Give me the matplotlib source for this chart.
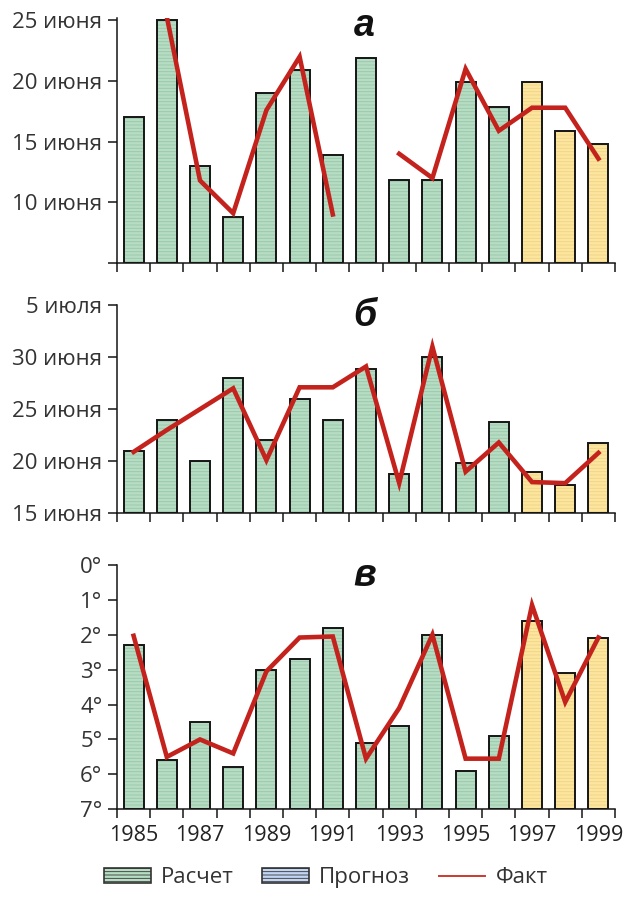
# Three stacked bar panels: calculated vs observed dates / temperatures, 1985-1999

import numpy as np
import matplotlib
matplotlib.use('Agg')
import matplotlib.pyplot as plt
from matplotlib.patches import Patch
from matplotlib.lines import Line2D

plt.rcParams['font.family'] = ['Open Sans', 'DejaVu Sans']
plt.rcParams['hatch.linewidth'] = 0.6

years = list(range(1985, 2000))
n_calc = 12  # 1985-1996 are "calc", 1997-1999 forecast (yellow)

# panel a: day of June
a_bars = [17, 25, 13, 8.8, 19, 20.9, 13.9, 21.9, 11.8, 11.8, 19.9, 17.9, 19.9, 15.9, 14.8]
a_fact = [np.nan, 25.3, 11.8, 9.1, 17.6, 22, 9, np.nan, 14, 12, 21, 15.9, 17.8, 17.8, 13.6]
a_ticks = [5, 10, 15, 20, 25]
a_labels = ['', '10 июня', '15 июня', '20 июня', '25 июня']

# panel b: day of June (35 = 5 July)
b_bars = [21, 24, 20, 28, 22, 26, 24, 28.9, 18.8, 30, 19.8, 23.8, 19, 17.7, 21.8]
b_fact = [20.9, 23, 25, 27, 20.1, 27.1, 27.1, 29.1, 17.9, 31, 19, 21.8, 18, 17.9, 20.8]
b_ticks = [15, 20, 25, 30, 35]
b_labels = ['15 июня', '20 июня', '25 июня', '30 июня', '5 июля']

# panel c: degrees (inverted axis)
c_bars = [2.3, 5.6, 4.5, 5.8, 3.0, 2.7, 1.8, 5.1, 4.6, 2.0, 5.9, 4.9, 1.6, 3.1, 2.1]
c_fact = [2.03, 5.5, 5.0, 5.4, 3.05, 2.08, 2.05, 5.55, 4.1, 2.0, 5.55, 5.55, 1.15, 3.93, 2.08]
c_ticks = [0, 1, 2, 3, 4, 5, 6, 7]
c_labels = ['%d°' % t for t in c_ticks]

year_labels = [str(y) for y in years[::2]]

GREEN = '#b6dcc3'
GREEN_H = '#98c8a8'
YELLOW = '#fce59e'
YELLOW_H = '#f0d486'
BLUE = '#c2d5f3'
RED = '#c4231d'
TXT = '#333333'


def draw_panel(ax, bars, fact, base, ylim, ticks, labels, letter, letter_y, show_years=False):
    x = np.array(years)
    vals = np.array(bars)
    fills = [GREEN] * n_calc + [YELLOW] * (len(years) - n_calc)
    hatches = [GREEN_H] * n_calc + [YELLOW_H] * (len(years) - n_calc)
    # fill with stripes, then black outline on top
    ax.bar(x, vals - base, bottom=base, width=0.6, color=fills,
           edgecolor=hatches, hatch='-----', linewidth=0, zorder=2)
    ax.bar(x, vals - base, bottom=base, width=0.6, fill=False,
           edgecolor='#151515', linewidth=1.4, zorder=3)
    ax.plot(x, fact, color=RED, linewidth=3.3, solid_joinstyle='miter', zorder=4)

    ax.set_xlim(1984.5, 1999.5)
    ax.set_ylim(*ylim)
    ax.set_yticks(ticks)
    ax.set_yticklabels(labels)
    ax.set_xticks(np.arange(1984.5, 2000, 1.0))
    ax.set_xticklabels([])
    ax.tick_params(axis='both', which='major', direction='out', length=6.5,
                   width=1.1, color='#151515', labelsize=16, labelcolor=TXT, pad=4)
    ax.set_xticks(years[::2], minor=True)
    if show_years:
        ax.set_xticklabels(year_labels, minor=True)
    ax.tick_params(axis='x', which='minor', length=0, labelsize=15.5,
                   labelcolor='#222222', pad=11)
    for side in ['top', 'right']:
        ax.spines[side].set_visible(False)
    for side in ['left', 'bottom']:
        ax.spines[side].set_linewidth(1.1)
        ax.spines[side].set_color('#151515')
    ax.patch.set_alpha(0)
    ax.text(0.497, letter_y, letter, transform=ax.transAxes, ha='center', va='top',
            fontsize=27, fontweight='bold', fontstyle='italic',
            family=['Liberation Sans', 'DejaVu Sans'], color='#111111')


if __name__ == "__main__":
    fig = plt.figure(figsize=(6.24, 8.99), dpi=100)
    left, width = 0.1875, 0.7981

    ax_a = fig.add_axes([left, 0.7075, width, 0.2725])
    draw_panel(ax_a, a_bars, a_fact, 5, (5, 25.2), a_ticks, a_labels, 'а', 1.04)

    ax_b = fig.add_axes([left, 0.4290, width, 0.2317])
    draw_panel(ax_b, b_bars, b_fact, 15, (15, 35), b_ticks, b_labels, 'б', 1.035)

    ax_c = fig.add_axes([left, 0.0998, width, 0.2718])
    draw_panel(ax_c, c_bars, c_fact, 7, (7, 0), c_ticks, c_labels, 'в', 1.03,
               show_years=True)

    handles = [
        Patch(facecolor=GREEN, edgecolor='#333333', hatch='-----', linewidth=1.2),
        Patch(facecolor=BLUE, edgecolor='#333333', hatch='-----', linewidth=1.2),
        Line2D([0], [0], color='#cc3a30', linewidth=1.4),
    ]
    fig.legend(handles, ['Расчет', 'Прогноз', 'Факт'], loc='center',
               bbox_to_anchor=(0.522, 0.0234), ncol=3, frameon=False,
               fontsize=16, labelcolor=TXT, handlelength=2.1, handleheight=0.7,
               handletextpad=0.45, columnspacing=1.3, borderpad=0)

    fig.savefig('out.png', dpi=100)
